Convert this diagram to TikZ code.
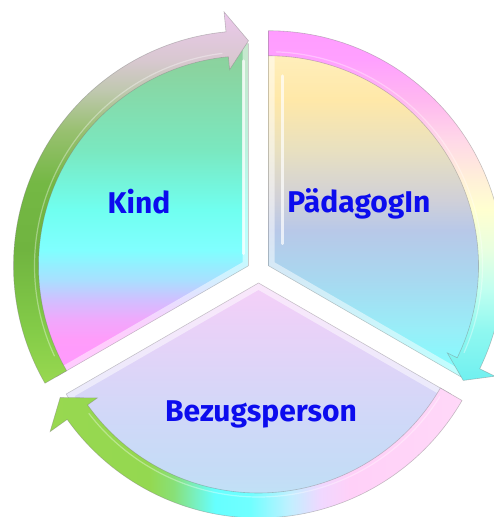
\documentclass[tikz,border=0pt]{standalone}
\usepackage{fontspec}
\setmainfont{Fira Sans}
\definecolor{txtblue}{HTML}{0C0CEE}
% Kind fill
\definecolor{ka}{HTML}{FF99FF}\definecolor{kb}{HTML}{FF9CFA}\definecolor{kc}{HTML}{F0A8FC}
\definecolor{kd}{HTML}{D0C0FF}\definecolor{kd2}{HTML}{A8E0FF}\definecolor{ke}{HTML}{80FFFF}\definecolor{kf}{HTML}{70FFF0}
\definecolor{kg}{HTML}{7AE8C0}\definecolor{kh}{HTML}{8AD4A0}\definecolor{ki}{HTML}{8CD09C}
\pgfdeclareverticalshading{kindfill}{100bp}{color(0bp)=(ka);color(25bp)=(ka);color(30.6bp)=(kb);
color(33.6bp)=(kc);color(36.6bp)=(kd);color(39.6bp)=(kd2);color(44bp)=(ke);color(50bp)=(kf);color(59bp)=(kg);
color(71bp)=(kh);color(75bp)=(ki);color(100bp)=(ki)}
% Paed fill
\definecolor{pa}{HTML}{80FFFF}\definecolor{pb}{HTML}{98EEF8}\definecolor{pc}{HTML}{A8D8F0}
\definecolor{pd}{HTML}{B8C8E8}\definecolor{pe}{HTML}{D0D0D8}\definecolor{pf}{HTML}{E8E0C0}
\definecolor{pg}{HTML}{FFE8A8}\definecolor{ph}{HTML}{FFF0C0}
\pgfdeclareverticalshading{paedfill}{100bp}{color(0bp)=(pa);color(25bp)=(pa);color(32bp)=(pb);
color(39.6bp)=(pc);color(47bp)=(pd);color(51.6bp)=(pe);color(59bp)=(pf);color(66.6bp)=(pg);
color(75bp)=(ph);color(100bp)=(ph)}
% Bez fill
\definecolor{ba}{HTML}{B8ECF8}\definecolor{bb}{HTML}{C4DCF6}\definecolor{bc}{HTML}{D0D8F8}
\definecolor{bd}{HTML}{E0D4F8}\definecolor{be}{HTML}{F0D0F8}\definecolor{bf}{HTML}{F4D0F8}
\pgfdeclareverticalshading{bezfill}{100bp}{color(0bp)=(ba);color(25bp)=(ba);color(37.4bp)=(bb);
color(48.6bp)=(bc);color(60bp)=(bd);color(71bp)=(be);color(75bp)=(bf);color(100bp)=(bf)}
% Kind band
\definecolor{kba}{HTML}{98D850}\definecolor{kbb}{HTML}{84CC48}\definecolor{kbc}{HTML}{70B440}
\definecolor{kbd}{HTML}{74B844}\definecolor{kbe}{HTML}{98C070}\definecolor{kbf}{HTML}{C0C8B0}
\definecolor{kbg}{HTML}{D8C8D0}\definecolor{kbh}{HTML}{ECC8EC}
\pgfdeclareverticalshading{kindband}{100bp}{color(0bp)=(kba);color(25bp)=(kba);color(32bp)=(kbb);
color(43bp)=(kbc);color(52bp)=(kbd);color(59bp)=(kbe);color(64.5bp)=(kbf);color(68.5bp)=(kbg);
color(75bp)=(kbh);color(100bp)=(kbh)}
% Paed band
\definecolor{pba}{HTML}{70F0F0}\definecolor{pbb}{HTML}{90F8F0}\definecolor{pbc}{HTML}{C0FFF0}
\definecolor{pbd}{HTML}{E8FFE0}\definecolor{pbe}{HTML}{FFFFD0}\definecolor{pbf}{HTML}{FFF0D8}
\definecolor{pbg}{HTML}{FFD8E8}\definecolor{pbh}{HTML}{FFB8F0}\definecolor{pbi}{HTML}{FFA0FF}
\definecolor{pbj}{HTML}{FF9CFF}
\pgfdeclareverticalshading{paedband}{100bp}{color(0bp)=(pba);color(25bp)=(pba);color(32.3bp)=(pbb);
color(38bp)=(pbc);color(43.7bp)=(pbd);color(49.4bp)=(pbe);color(53.7bp)=(pbf);color(59.4bp)=(pbg);
color(65bp)=(pbh);color(70.9bp)=(pbi);color(75bp)=(pbj);color(100bp)=(pbj)}
% Bez band
\definecolor{bba}{HTML}{98D850}\definecolor{bbb}{HTML}{94D850}\definecolor{bbc}{HTML}{88E078}
\definecolor{bbd}{HTML}{78F0C0}\definecolor{bbe}{HTML}{66FFFF}\definecolor{bbf}{HTML}{70FFFF}
\definecolor{bbg}{HTML}{C0F0FF}\definecolor{bbh}{HTML}{F0D8FF}\definecolor{bbi}{HTML}{FFD0F8}
\definecolor{bbj}{HTML}{FFD8F8}
\pgfdeclarehorizontalshading{bezband}{100bp}{color(0bp)=(bba);color(25bp)=(bba);color(37bp)=(bbb);
color(40bp)=(bbc);color(42.6bp)=(bbd);color(45bp)=(bbe);color(49.3bp)=(bbf);color(54bp)=(bbg);
color(57.8bp)=(bbh);color(61.4bp)=(bbi);color(75bp)=(bbj);color(100bp)=(bbj)}
\tikzset{
  sec/.style 2 args={insert path={(0,0) -- (#1:222) arc[start angle=#1, end angle=#2, radius=222] -- cycle}},
  secedge/.style={draw=black!45, draw opacity=0.45, line width=0.6pt},
  bevel/.style={draw=white, draw opacity=0.5, line width=12pt},
  shine/.style={draw=white, draw opacity=0.7, line width=2.5pt, line cap=round},
  bandedge/.style={draw=black!50, draw opacity=0.45, line width=0.6pt},
  lbl/.style={text=txtblue, font=\bfseries\fontsize{30}{36}\selectfont, anchor=base, inner sep=0pt}
}
\begin{document}
\begin{tikzpicture}[x=1pt,y=1pt]
\useasboundingbox (0,0) rectangle (494,517);
% ---------- sectors ----------
\begin{scope}[shift={(248.5,251.25)}]
  \shade[shading=kindfill, sec={90}{210}];
  \begin{scope}\clip[sec={90}{210}]; \path[bevel, sec={90}{210}]; \end{scope}
  \path[shine] (-5,12) -- (-5,205);
  \path[secedge, sec={90}{210}];
\end{scope}
\begin{scope}[shift={(268.5,251.25)}]
  \shade[shading=paedfill, sec={90}{-30}];
  \begin{scope}\clip[sec={90}{-30}]; \path[bevel, sec={90}{-30}]; \end{scope}
  \path[shine] (14,22) -- (14,190);
  \path[secedge, sec={90}{-30}];
\end{scope}
\begin{scope}[shift={(258.5,234)}]
  \shade[shading=bezfill, sec={-30}{-150}];
  \begin{scope}\clip[sec={-30}{-150}]; \path[bevel, sec={-30}{-150}]; \end{scope}
  \path[secedge, sec={-30}{-150}];
\end{scope}
% ---------- arrow bands ----------
\begin{scope}[shift={(248.5,251.25)}]
  \shade[shading=kindband, bandedge] (210:235) arc[start angle=210, end angle=95.5, radius=235]
    -- (95.5:255) -- (90:225) -- (95.5:197) -- (95.5:210)
    arc[start angle=95.5, end angle=210, radius=210] -- cycle;
  \draw[white, opacity=0.35, line width=1.2pt] (205:214) arc[start angle=205, end angle=97, radius=214];
\end{scope}
\begin{scope}[shift={(268.5,251.25)}]
  \shade[shading=paedband, bandedge] (90:235) arc[start angle=90, end angle=-26, radius=235]
    -- (-26:252) -- (-30.5:226) -- (-26:199) -- (-26:210)
    arc[start angle=-26, end angle=90, radius=210] -- cycle;
  \draw[white, opacity=0.35, line width=1.2pt] (88:214) arc[start angle=88, end angle=-24, radius=214];
\end{scope}
\begin{scope}[shift={(258.5,234)}]
  \shade[shading=bezband, bandedge] (-30:235) arc[start angle=-30, end angle=-144.5, radius=235]
    -- (-144.5:256) -- (-150:229) -- (-144.5:198) -- (-144.5:210)
    arc[start angle=-144.5, end angle=-30, radius=210] -- cycle;
  \draw[white, opacity=0.35, line width=1.2pt] (-32:214) arc[start angle=-32, end angle=-142.5, radius=214];
\end{scope}
% ---------- labels ----------
\node[lbl] (kind) at (139,303) {Kind};
\node[lbl] (paed) at (359,304) {PädagogIn};
\node[lbl] (bez) at (261,95) {Bezugsperson};
\end{tikzpicture}
\end{document}
